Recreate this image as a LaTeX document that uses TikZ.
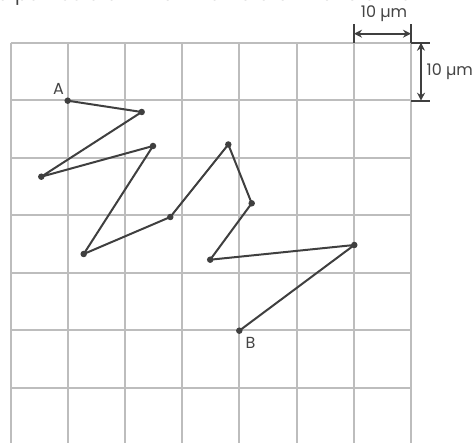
\documentclass[tikz,border=0pt]{standalone}
\usepackage{fontspec}
\setmainfont{Poppins}
\usetikzlibrary{arrows.meta}
\definecolor{gridgray}{HTML}{BDBDBD}
\definecolor{ink}{HTML}{3F3F3F}
\definecolor{txt}{HTML}{444444}
\begin{document}
\begin{tikzpicture}[x=1pt,y=-1pt,
  gridline/.style={draw=gridgray,line width=2pt},
  pathline/.style={draw=ink,line width=2pt,line join=round},
  dot/.style={circle,fill=ink,inner sep=0pt,minimum size=6.5pt},
  lbl/.style={text=txt,font=\fontsize{16}{18}\selectfont,inner sep=0pt},
  dimarrow/.style={draw=ink,line width=2.2pt,{Stealth[length=8pt,width=8pt]}-{Stealth[length=8pt,width=8pt]}},
  tick/.style={draw=ink,line width=1.8pt}]
\useasboundingbox (0,0) rectangle (476,443);
\clip (0,0) rectangle (476,443);
% cropped caption line at the top
\node[text=txt,font=\fontsize{19}{21}\selectfont,inner sep=0pt,anchor=base west] (cap) at (-3,0.5) {a partícula em movimento browniano em um};
% grid
\foreach \i in {0,...,7} {
  \draw[gridline] ({10.5+57.2*\i},42.7) -- ({10.5+57.2*\i},444);
}
\foreach \j in {0,...,6} {
  \draw[gridline] (10.5,{42.7+57.5*\j}) -- (411,{42.7+57.5*\j});
}
% path points
\coordinate (A) at (67.7,100.7);
\coordinate (p2) at (141.7,112);
\coordinate (p3) at (41.3,176.7);
\coordinate (p4) at (153,146);
\coordinate (p5) at (83.7,254);
\coordinate (p6) at (170.3,217);
\coordinate (p7) at (228.3,144.5);
\coordinate (p8) at (251.7,203.3);
\coordinate (p9) at (210.2,259.7);
\coordinate (p10) at (354.3,245);
\coordinate (B) at (239.3,330.7);
\draw[pathline] (A) -- (p2) -- (p3) -- (p4) -- (p5) -- (p6) -- (p7) -- (p8) -- (p9) -- (p10) -- (B);
\foreach \p in {A,p2,p3,p4,p5,p6,p7,p8,p9,p10,B} \node[dot] at (\p) {};
\node[lbl] (la) at (58.5,89) {A};
\node[lbl] (lb) at (250.5,343) {B};
% dimension marks
\coordinate (h1t) at (354,24.5);
\coordinate (h1b) at (354,42.7);
\coordinate (h2t) at (411,24.5);
\coordinate (h2b) at (411,42.7);
\draw[tick] (h1t) -- (h1b);
\draw[tick] (h2t) -- (h2b);
\coordinate (hl) at (354,33.7);
\coordinate (hr) at (411,33.7);
\draw[dimarrow] (hl) -- (hr);
\node[lbl] (toplbl) at (384,13.5) {10 µm};
\coordinate (v1l) at (411,42.7);
\coordinate (v1r) at (430,42.7);
\coordinate (v2l) at (411,100.7);
\coordinate (v2r) at (430,100.7);
\draw[tick] (v1l) -- (v1r);
\draw[tick] (v2l) -- (v2r);
\coordinate (vt) at (421,42.7);
\coordinate (vb) at (421,100.7);
\draw[dimarrow] (vt) -- (vb);
\node[lbl,anchor=west] (rlbl) at (426.5,71.5) {10 µm};
\end{tikzpicture}
\end{document}
